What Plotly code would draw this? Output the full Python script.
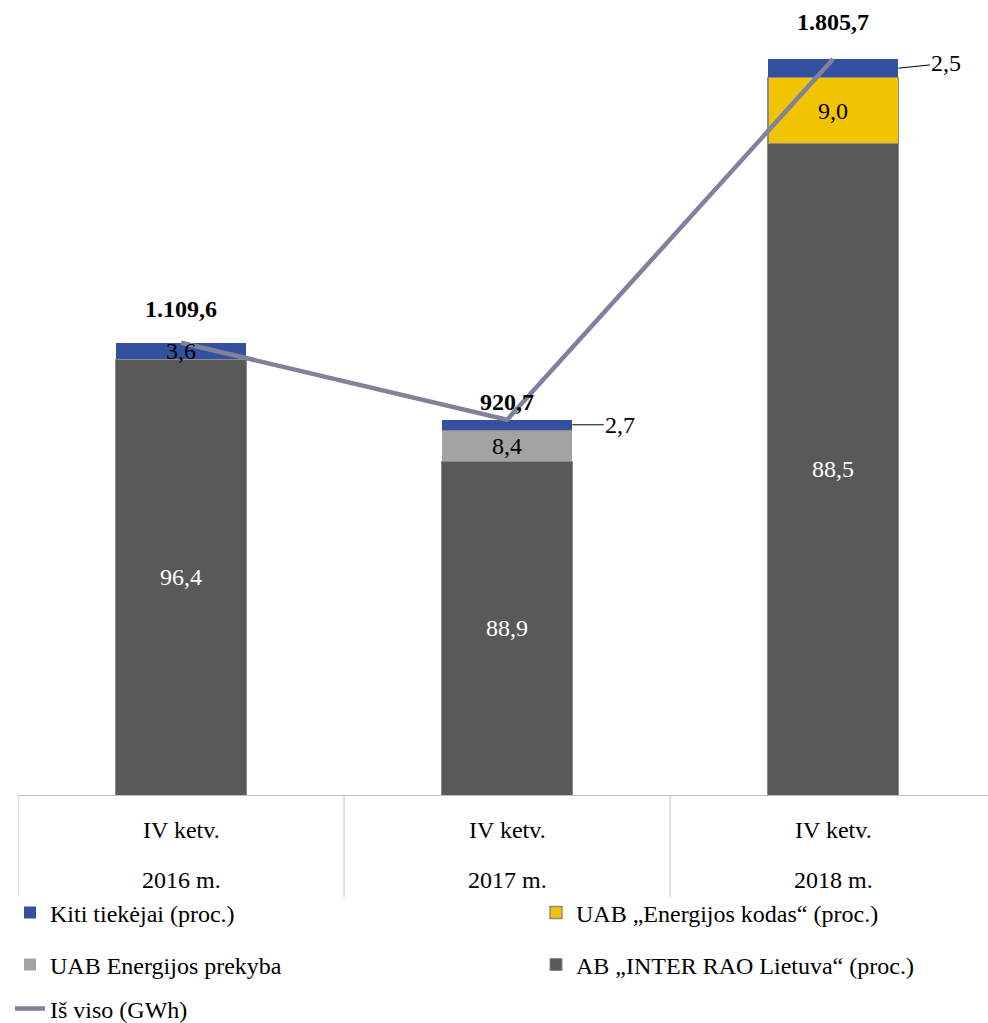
import plotly.graph_objects as go

categories = ["IV ketv. 2016 m.", "IV ketv. 2017 m.", "IV ketv. 2018 m."]
cat_line1 = ["IV ketv.", "IV ketv.", "IV ketv."]
cat_line2 = ["2016 m.", "2017 m.", "2018 m."]
totals_gwh = [1109.6, 920.7, 1805.7]
pct_inter_rao = [96.4, 88.9, 88.5]
pct_prekyba = [0.0, 8.4, 0.0]
pct_kodas = [0.0, 0.0, 9.0]
pct_kiti = [3.6, 2.7, 2.5]

FONT = "'Liberation Serif', 'Times New Roman', Times, serif"
FS = 24


def lt(v):
    s = f"{v:,.1f}"
    return s.replace(",", "X").replace(".", ",").replace("X", ".")


x = list(range(len(categories)))


def seg(pcts):
    return [p * t / 100.0 for p, t in zip(pcts, totals_gwh)]


fig = go.Figure()
series = [
    ("AB „INTER RAO Lietuva“ (proc.)", pct_inter_rao, "#595959", "#8a8a8a", 1, "legend4"),
    ("UAB Energijos prekyba", pct_prekyba, "#a3a3a3", "#a3a3a3", 0, "legend3"),
    ("UAB „Energijos kodas“ (proc.)", pct_kodas, "#f2c300", "#8c8c8c", 1.5, "legend2"),
    ("Kiti tiekėjai (proc.)", pct_kiti, "#33519e", "#33519e", 0, "legend"),
]
for name, pcts, col, lcol, lw, leg in series:
    fig.add_trace(go.Bar(
        x=x, y=seg(pcts), name=name, width=0.4,
        marker=dict(color=col, line=dict(color=lcol, width=lw)),
        legend=leg, hoverinfo="skip",
    ))

fig.add_trace(go.Scatter(
    x=x, y=totals_gwh, mode="lines", name="Iš viso (GWh)",
    line=dict(color="#81819b", width=4.5), legend="legend5",
))

annotations = []
# segment labels
for i in x:
    base = 0.0
    for name, pcts, col, lcol, lw, leg in series:
        h = pcts[i] * totals_gwh[i] / 100.0
        if pcts[i] > 0:
            txt = lt(pcts[i])
            mid = base + h / 2
            if name.startswith("AB"):
                annotations.append(dict(x=i, y=mid, text=txt, showarrow=False,
                                        font=dict(family=FONT, size=FS, color="white")))
            elif name.startswith("Kiti") and i > 0:
                annotations.append(dict(x=i + 0.2, y=mid, text=txt, showarrow=True,
                                        arrowhead=0, arrowwidth=1, arrowcolor="black",
                                        ax=48, ay=(-5 if i == 2 else 0),
                                        font=dict(family=FONT, size=FS, color="black")))
            else:
                annotations.append(dict(x=i, y=mid, text=txt, showarrow=False,
                                        font=dict(family=FONT, size=FS, color="black")))
        base += h

# total labels
total_shift = [34, 18, 37]
for i in x:
    annotations.append(dict(x=i, y=totals_gwh[i], text=f"<b>{lt(totals_gwh[i])}</b>",
                            showarrow=False, yshift=total_shift[i], yanchor="middle",
                            font=dict(family=FONT, size=FS, color="black")))

# category labels (table style)
for i in x:
    annotations.append(dict(x=i, y=0, yref="paper", text=cat_line1[i], showarrow=False,
                            yanchor="middle", yshift=-35,
                            font=dict(family=FONT, size=FS, color="black")))
    annotations.append(dict(x=i, y=0, yref="paper", text=cat_line2[i], showarrow=False,
                            yanchor="middle", yshift=-85,
                            font=dict(family=FONT, size=FS, color="black")))

shapes = []
for b in [-0.5, 0.5, 1.5]:
    shapes.append(dict(type="line", xref="x", yref="paper", x0=b, x1=b, y0=0, y1=-0.13,
                       line=dict(color="#bfbfbf", width=1)))

W, H = 988, 1023
ml, mr, mt, mb = 18, 0, 10, 228
ph = H - mt - mb
pw = W - ml - mr


def leg(xpx, ypx):
    return dict(x=(xpx - ml) / pw, y=(H - mb - ypx) / ph, xanchor="left", yanchor="middle",
                orientation="h", bgcolor="rgba(0,0,0,0)",
                font=dict(family=FONT, size=FS, color="black"))


fig.update_layout(
    width=W, height=H,
    margin=dict(l=ml, r=mr, t=mt, b=mb, autoexpand=False),
    barmode="stack",
    plot_bgcolor="white", paper_bgcolor="white",
    font=dict(family=FONT, size=FS, color="black"),
    showlegend=True,
    legend=leg(10, 913),
    legend2=leg(536, 913),
    legend3=leg(10, 965),
    legend4=leg(536, 965),
    legend5=leg(10, 1009),
    xaxis=dict(range=[-0.5, 2.475], showticklabels=False, ticks="", showgrid=False,
               zeroline=False, showline=True, linecolor="#bfbfbf", linewidth=1, fixedrange=True),
    yaxis=dict(range=[0, ph / 0.4076], visible=False, showgrid=False, zeroline=False,
               fixedrange=True),
    annotations=annotations,
    shapes=shapes,
)

fig.write_html("out.html", config={"displayModeBar": False},
               post_script="document.body.style.margin='0';document.body.style.overflow='hidden';")
